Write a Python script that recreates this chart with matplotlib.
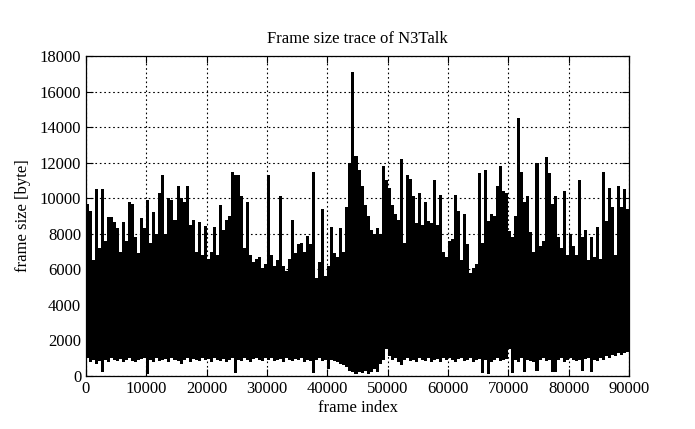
import matplotlib
matplotlib.use("Agg")
import matplotlib.pyplot as plt
import numpy as np

# трасса N3Talk, сжатая по корзинам по 500 кадров: максимум и минимум размера кадра в каждой корзине
bucket_size = 500

frame_max = [
    # 0 - 10000
    9700, 9300, 6500, 10500, 7200, 10500, 7600, 8950, 8950, 8650,
    8300, 7000, 8650, 7600, 9800, 9700, 7800, 6900, 8900, 8300,
    # 10000 - 20000
    9900, 7500, 9200, 8000, 10300, 11300, 8000, 10000, 9900, 8800,
    10700, 10000, 9800, 10700, 8500, 8800, 7000, 8650, 6800, 8450,
    # 20000 - 30000
    6600, 7000, 8400, 6800, 9600, 8200, 8800, 9000, 11470, 11300,
    11300, 10100, 7200, 9800, 6800, 6400, 6600, 6700, 6100, 6300,
    # 30000 - 40000
    11300, 6800, 6200, 6500, 10100, 6200, 5900, 6600, 8800, 6900,
    7400, 7500, 7000, 7900, 7400, 11500, 5500, 6400, 9400, 5600,
    # 40000 - 50000
    6200, 8400, 6900, 6700, 8300, 7000, 9500, 12000, 17100, 12400,
    11600, 10700, 9600, 9000, 8200, 8000, 8300, 8000, 11800, 11000,
    # 50000 - 60000
    10600, 9600, 9100, 8800, 12200, 7500, 11300, 11100, 10100, 8600,
    10300, 8500, 9800, 8700, 8600, 11000, 8500, 10200, 7000, 6700,
    # 60000 - 70000
    7600, 7700, 10200, 9300, 6500, 9100, 7400, 5800, 6100, 6300,
    11400, 7500, 11600, 8700, 9100, 9000, 10700, 11800, 10400, 10300,
    # 70000 - 80000
    8150, 7800, 9000, 14500, 11500, 9800, 10100, 8100, 7000, 12000,
    7300, 7600, 12300, 11400, 9700, 10100, 7800, 7200, 10400, 6800,
    # 80000 - 90000
    8000, 7300, 6800, 11000, 7800, 8200, 6500, 7800, 6700, 8400,
    6600, 11500, 8700, 10600, 9500, 6800, 10700, 9500, 10500, 9400,
]

frame_min = [
    # 0 - 10000
    1000, 800, 900, 700, 850, 200, 900, 800, 1000, 900,
    850, 950, 800, 900, 1000, 850, 800, 900, 950, 1000,
    # 10000 - 20000
    100, 900, 800, 1000, 850, 900, 950, 800, 1000, 900,
    850, 700, 900, 1000, 800, 950, 900, 850, 1000, 900,
    # 20000 - 30000
    950, 800, 1000, 900, 850, 950, 800, 900, 1000, 150,
    900, 850, 1000, 900, 800, 950, 1000, 900, 850, 1000,
    # 30000 - 40000
    900, 1000, 850, 900, 950, 800, 1000, 900, 850, 950,
    900, 1000, 800, 900, 850, 150, 900, 1000, 850, 900,
    # 40000 - 50000
    400, 900, 850, 800, 700, 600, 500, 300, 250, 100,
    200, 150, 300, 100, 200, 400, 250, 700, 900, 1500,
    # 50000 - 60000
    1100, 900, 1000, 800, 600, 900, 1000, 850, 900, 800,
    1000, 900, 850, 1000, 800, 900, 950, 800, 1000, 900,
    # 60000 - 70000
    1000, 900, 800, 950, 1000, 850, 900, 1000, 800, 900,
    950, 150, 900, 100, 800, 900, 1000, 850, 900, 950,
    # 70000 - 80000
    1500, 150, 900, 800, 1000, 200, 900, 850, 800, 300,
    900, 1000, 850, 900, 200, 250, 900, 1000, 800, 900,
    # 80000 - 90000
    1000, 900, 850, 900, 300, 950, 1000, 200, 900, 850,
    1000, 900, 1100, 1000, 1200, 1100, 1300, 1200, 1300, 1350,
]

x_ticks = [0, 10000, 20000, 30000, 40000, 50000, 60000, 70000, 80000, 90000]
y_ticks = [0, 2000, 4000, 6000, 8000, 10000, 12000, 14000, 16000, 18000]

# шрифт как в gnuplot (Times)
plt.rcParams['font.family'] = ['Liberation Serif', 'DejaVu Serif']

fig = plt.figure(figsize=(6.95, 4.29), dpi=100)
ax = fig.add_axes([86 / 695, 1 - 376 / 429, (629 - 86) / 695, (376 - 56) / 429])

# границы корзин; каждая корзина закрашена от минимума до максимума
edges = np.arange(len(frame_max) + 1) * bucket_size
ax.stairs(frame_max, edges, baseline=frame_min, fill=True, color='black',
          linewidth=0, zorder=3)

ax.set_xlim(0, 90000)
ax.set_ylim(0, 18000)
ax.set_xticks(x_ticks)
ax.set_yticks(y_ticks)
ax.tick_params(direction='in', top=True, right=True, labelsize=12, length=5, width=0.8)
ax.grid(True, color='black', linestyle=(0, (1.5, 2.5)), linewidth=0.8, zorder=1)
for s in ax.spines.values():
    s.set_linewidth(0.9)

ax.set_title('Frame size trace of N3Talk', fontsize=12, pad=9)
ax.set_xlabel('frame index', fontsize=12, labelpad=2)
ax.set_ylabel('frame size [byte]', fontsize=12, labelpad=6)

fig.savefig('out.png', dpi=100)
